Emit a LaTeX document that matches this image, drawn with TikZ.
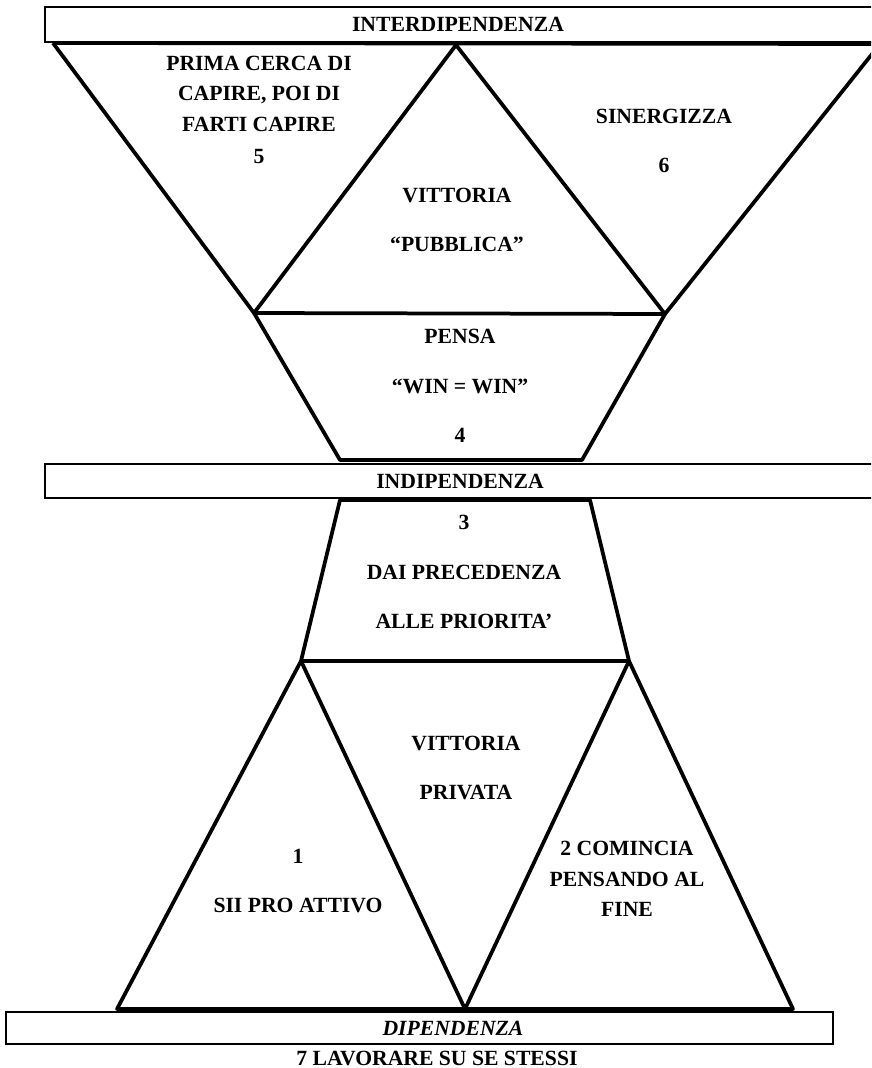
\documentclass[tikz,border=0pt]{standalone}
\usepackage{fontspec}
\setmainfont{Liberation Serif}
\usetikzlibrary{positioning}
\tikzset{
  lbl/.style={font=\bfseries\fontsize{18.5}{28}\selectfont, align=center, inner sep=1pt},
  bar/.style={draw, line width=1.2pt},
  edge/.style={line width=3.2pt, line join=round},
}

\begin{document}
\begin{tikzpicture}[x=0.03cm, y=-0.03cm]
   \clip (0,0) rectangle (871,1068);

   % bands
   \draw[bar] (45,7) rectangle (890,42);
   \draw[bar] (45,464) rectangle (890,498);
   \draw[bar] (6,1012) rectangle (833,1044);

   % corner points
   \coordinate (tl) at (53,43);
   \coordinate (tm) at (456,45);
   \coordinate (tr) at (880,44);
   \coordinate (ml) at (254,313);
   \coordinate (mr) at (665,314);
   \coordinate (pl) at (340,460);
   \coordinate (pr) at (582,460);
   \coordinate (ql) at (340,500);
   \coordinate (qr) at (590,500);
   \coordinate (bl) at (301,661);
   \coordinate (br) at (629,661);
   \coordinate (fl) at (117,1009);
   \coordinate (fm) at (465,1009);
   \coordinate (fr) at (793,1009);

   % upper half
   \draw[edge] (tl) -- (tr);
   \draw[edge] (tl) -- (ml) -- (tm) -- (mr) -- (tr);
   \draw[edge] (ml) -- (mr) -- (pr) -- (pl) -- cycle;

   % lower half
   \draw[edge] (ql) -- (qr) -- (br) -- (bl) -- cycle;
   \draw[edge] (bl) -- (fl) -- (fr) -- (br) -- (fm) -- (bl);

   % labels
   \node[lbl] (interdip) at (458,24) {INTERDIPENDENZA};
   \node[lbl] (capire) at (259,110) {PRIMA CERCA DI\\[-2pt]CAPIRE, POI DI\\[-2pt]FARTI CAPIRE\\5};
   \node[lbl] (sinergia) at (664,141) {SINERGIZZA\\[14pt]6};
   \node[lbl] (pubblica) at (457,220) {VITTORIA\\[14pt]“PUBBLICA”};
   \node[lbl] (winwin) at (460,386) {PENSA\\[14pt]“WIN = WIN”\\[14pt]4};
   \node[lbl] (indip) at (460,481) {INDIPENDENZA};
   \node[lbl] (priorita) at (464,572) {3\\[14pt]DAI PRECEDENZA\\[14pt]ALLE PRIORITA’};
   \node[lbl] (privata) at (466,768) {VITTORIA\\[14pt]PRIVATA};
   \node[lbl] (proattivo) at (298,881) {1\\[14pt]SII PRO ATTIVO};
   \node[lbl] (fine) at (627,879) {2 COMINCIA\\[-2pt]PENSANDO AL\\[-2pt]FINE};
   \node[lbl, font=\bfseries\itshape\fontsize{18.5}{28}\selectfont] (dip) at (453,1028) {DIPENDENZA};
   \node[lbl] (stessi) at (437,1058) {7 LAVORARE SU SE STESSI};

\end{tikzpicture}
\end{document}
